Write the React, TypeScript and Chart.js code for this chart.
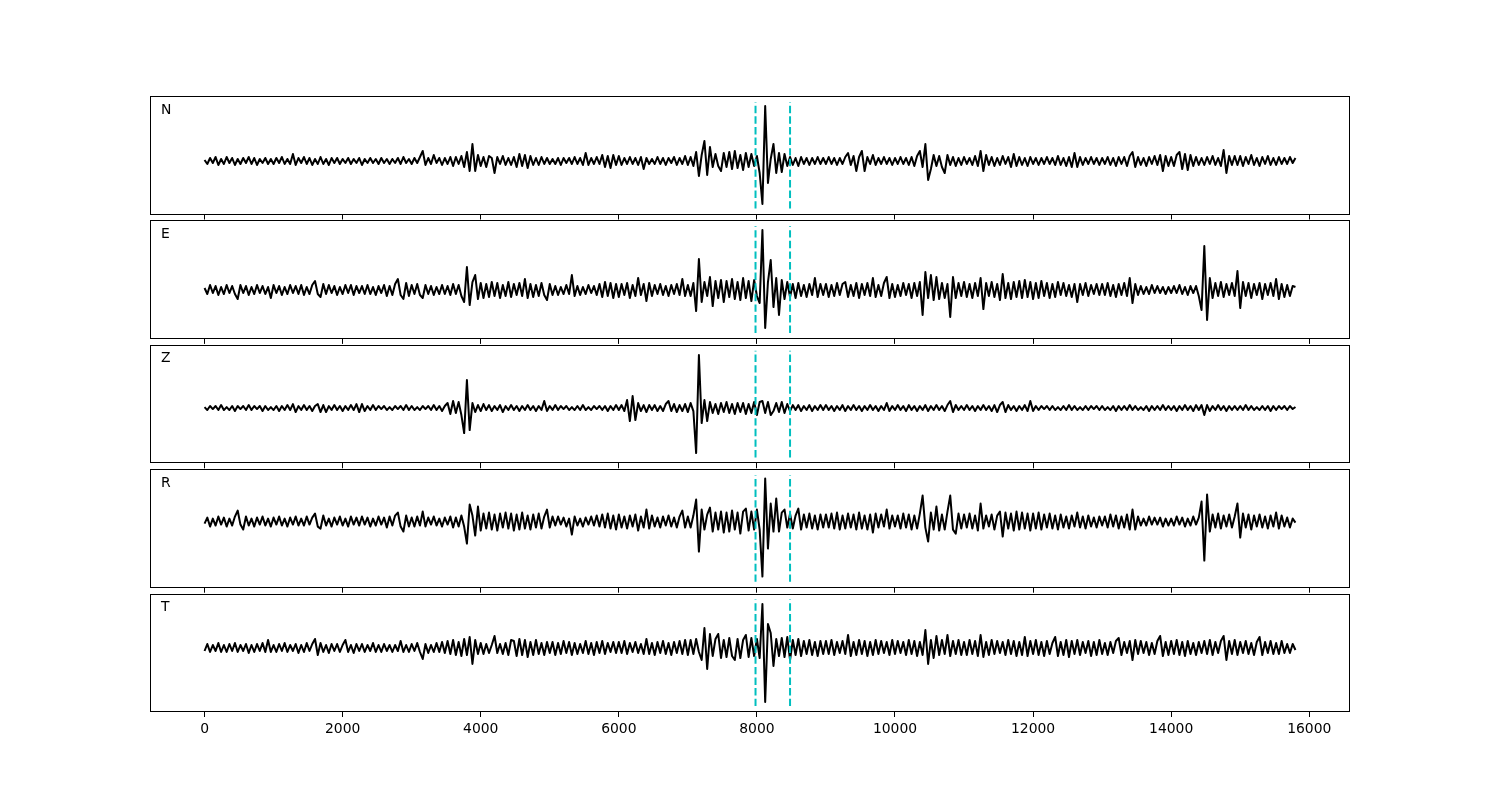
import React, { useEffect, useRef } from "react";
import { Chart, registerables } from "chart.js";

Chart.register(...registerables);

// sample interval of the traces (x units)
const SAMPLE_STEP = 40;

// Channel traces, one value every SAMPLE_STEP (rows of 1000 x units)
const N_TRACE = [
  1, -3, 3, -2, 4, -4, 2, -3, 4, -2, 3, -4, 2, -3, 3, -2, 4, -3, 3, -4, 2, -2, 3, -3, 2,
  -3, 3, -2, 4, -3, 2, -3, 7, -4, 3, -2, 4, -3, 3, -4, 2, -3, 4, -3, 2, -4, 3, -2, 3, -3,
  2, -2, 3, -3, 2, -2, 3, -4, 2, -2, 3, -2, 2, -3, 3, -2, 2, -3, 2, -2, 3, -3, 4, -2, 2,
  -3, 3, -2, 4, 10, -4, 3, -3, 6, -2, 3, -4, 3, -3, 4, -5, 4, -3, 5, -6, 9, -10, 17, -10, 6,
  -5, 4, -6, 5, 3, -12, 4, -3, 5, -4, 3, -4, 4, -6, 7, -5, 6, -7, 5, -4, 3, -4, 4, -3, 3,
  -3, 2, -3, 3, -4, 3, -2, 3, -3, 4, -3, 3, -4, 8, -4, 3, -3, 4, -3, 6, -6, 5, -7, 6, -4,
  5, -4, 3, -3, 4, -3, 3, -4, 4, -8, 3, -3, 2, -3, 4, -3, 3, -4, 3, -2, 4, -4, 3, -3, 5,
  -4, 4, -5, 9, -15, 6, 20, -14, 14, -6, 7, -5, -10, 8, -6, 9, -8, 10, -7, 6, -9, 8, -6, 7, -5,
  5, -12, -43, 55, -22, 2, 17, -12, 8, -11, 7, -5, 4, -4, 3, -5, 4, -3, 3, -4, 3, -3, 4, -3, 3,
  -3, 4, -3, 3, -4, 3, -3, 4, 8, -4, 5, -10, 4, 10, -10, 4, -3, 6, -4, 3, -3, 4, -3, 3, -4,
  3, -3, 4, -3, 3, -4, 4, -5, 5, 10, -6, 17, -19, -8, 6, -5, 5, -6, -12, 6, -4, 4, -5, 3, -4,
  4, -3, 3, -4, 5, -5, 10, -10, 6, -4, 4, -5, 3, -4, 5, -3, 4, -6, 7, -5, 4, -4, 3, -5, 4,
  -3, 3, -4, 3, -3, 4, -3, 3, -4, 5, -4, 3, -5, 4, -6, 8, -6, 4, -4, 3, -3, 4, -3, 3, -4,
  3, -3, 4, -4, 3, -5, 4, -3, 4, -5, 5, 9, -6, 4, -4, 3, -5, 4, -3, 5, -4, 6, -10, 5, -5,
  4, -5, 6, 9, -8, 7, -9, 6, -5, 4, -4, 3, -4, 4, -3, 5, -4, 3, -5, 11, -12, 5, -4, 5, -4,
  5, -5, 4, -3, 6, -4, 3, -5, 4, -3, 5, -4, 3, -4, 4, -3, 3, -3, 4, -2, 3,
];

const E_TRACE = [
  2, -4, 5, -3, 4, -5, 3, -4, 5, -3, 4, -4, -9, 5, -3, 4, -5, 3, -4, 5, -3, 4, -4, 3, -8,
  5, -3, 4, -5, 3, -4, 5, -3, 4, -4, 5, -5, 3, -4, 5, 9, -4, -7, 6, -4, 5, -3, 4, -5, 3,
  -4, 5, -3, 5, -5, 4, -3, 4, -4, 5, -4, 3, -5, 4, -3, 5, -6, 4, -5, 6, 11, -5, -9, 7, -6,
  5, -4, 6, -5, -8, 5, -4, 4, -5, 3, -4, 5, -4, 4, -5, 6, -4, 5, -6, -12, 23, -15, 8, 15, -9,
  7, -8, 6, -7, 8, -6, 7, -8, 5, -6, 8, -7, 6, -5, 7, -6, 11, -8, 6, -7, 5, -6, 7, -5, -10,
  6, -5, 4, -5, 3, -4, 5, -4, 15, -6, 4, -5, 3, -4, 5, -3, 4, -5, 6, -7, 8, -6, 7, -8, 6,
  -7, 6, -5, 7, -8, 5, -6, 12, -5, 6, -11, 7, -6, 5, -4, 6, -5, 4, -6, 5, -4, 6, -5, 11, -6,
  5, -6, 7, -21, 31, -12, 8, -6, 13, -16, 9, -8, 10, -12, 9, -7, 11, -9, 8, -10, 12, -8, 9, -11, 10,
  -6, -13, 60, -38, 8, 30, -17, 12, -25, 10, -9, 8, -7, 6, -8, 7, -6, 5, -7, 6, -5, 12, -7, 6, -5,
  6, -7, 5, -6, 7, -5, 6, 8, -7, 5, -6, 7, -8, 6, -5, 7, -6, 12, -7, 5, -6, 7, 13, -8, 6,
  -7, 5, -6, 7, -5, 6, -8, 7, -6, 8, -25, 18, -8, 15, -10, 13, -9, 7, -8, 6, -27, 13, -8, 7, -6,
  8, -7, 6, -8, 7, -6, 12, -19, 7, -6, 8, -7, 6, -10, 16, -8, 7, -9, 8, -7, 9, -8, 10, -7, 8,
  -9, 7, -8, 9, -6, 7, -8, 6, -7, 8, -5, 7, -6, 5, -7, 6, -12, 6, -5, 7, -6, 5, -4, 6, -5,
  6, -5, 7, -6, 5, -7, 6, -5, 7, -6, 12, -13, 6, -5, 4, -4, 3, -4, 5, -3, 4, -3, 3, -4, 3,
  -3, 4, -3, 5, -4, 3, -5, 4, -3, 4, -6, -20, 44, -30, 12, -8, 7, -6, 8, -7, 6, -5, 7, -6, 19,
  -18, 8, -6, 7, -8, 6, -5, 7, -9, 6, -5, 7, -6, 11, -9, 6, -7, 5, -6, 4, 3,
];

const Z_TRACE = [
  1, -2, 2, -1, 2, -2, 3, -2, 1, -2, 2, -3, 2, -1, 2, -2, 3, -2, 2, -1, 2, -3, 2, -2, 1,
  -2, 2, -3, 2, -2, 3, -2, 4, -4, 2, -2, 3, -2, 2, -3, 2, 4, -4, 3, -4, 2, -2, 3, -2, 2,
  -3, 2, -2, 3, -2, 4, -4, 4, -3, 2, -2, 3, -2, 2, -1, 2, -2, 1, -2, 2, -1, 2, -2, 3, -2,
  2, -2, 1, -2, 2, -1, 2, -2, 3, -2, 2, -3, 2, 5, -6, 7, -5, 6, -7, -25, 28, -22, 5, -4, 3,
  -3, 4, -2, 3, -3, 2, -2, 3, -4, 2, -2, 3, -2, 2, -3, 2, -2, 3, -2, 2, -3, 2, -2, 7, -3,
  2, -2, 3, -2, 2, -1, 2, -2, 1, -2, 2, -2, 3, -2, 1, -2, 2, -1, 2, -2, 2, -3, 2, -2, 3,
  -2, 3, -3, 8, -13, 12, -12, 5, -3, 3, -4, 3, -2, 3, -3, 2, -3, 4, 7, -3, 4, -4, 3, -3, 4,
  -4, 5, -3, -45, 53, -15, 8, -13, 6, -5, 4, -6, 5, -4, 6, -5, 4, -6, 5, -4, 5, -6, 4, -5, 6,
  -7, 6, 7, -5, 6, -7, -3, 5, -4, 6, -5, 4, -3, 3, -2, 3, -3, 2, -2, 3, -3, 2, -2, 3, -2,
  3, -2, 2, -3, 2, -2, 3, -3, 2, -2, 3, -2, 2, -3, 2, -2, 3, -2, 2, -3, 2, -2, 5, -3, 2,
  -2, 3, -2, 2, -3, 3, -2, 2, -3, 2, -2, 3, -3, 2, -2, 3, -2, 2, -3, 3, 7, -4, 3, -2, 2,
  -2, 3, -2, 2, -3, 2, -2, 3, -2, 2, -3, 3, -4, 3, 6, -4, 3, -2, 2, -3, 2, -2, 3, -3, 7,
  -3, 2, -2, 2, -1, 2, -2, 2, -2, 1, -2, 2, -2, 3, -2, 2, -2, 1, -2, 2, -2, 2, -1, 2, -2,
  2, -2, 1, -2, 2, -3, 2, -2, 2, -2, 3, -2, 2, -2, 1, -2, 2, -3, 2, -2, 2, -2, 3, -2, 2,
  -2, 2, -3, 2, -2, 3, -2, 2, -3, 3, -2, 3, -7, 3, -3, 2, -2, 3, -2, 2, -3, 2, -2, 2, -2,
  2, -2, 3, -2, 2, -2, 1, -2, 2, -2, 2, -3, 2, -2, 2, -1, 2, -2, 2, -1, 1,
];

const R_TRACE = [
  -2, 4, -5, 3, -4, 5, -3, 4, -5, 3, -4, 5, 11, -3, -8, 5, -4, 3, -5, 4, -3, 5, -4, 3, -5,
  4, -3, 5, -4, 3, -5, 4, -3, 5, -4, 3, -4, 5, -3, 4, 8, -5, -7, 6, -4, 3, -5, 4, -3, 5,
  -4, 3, -5, 5, -3, 4, -4, 5, -3, 4, -5, 3, -4, 5, -3, 4, -6, 5, -4, 6, 9, -5, -10, 6, -5,
  4, -5, 5, -4, 10, -5, 4, -3, 5, -4, 3, -5, 4, -3, 5, -6, 4, -5, 6, -5, -22, 17, 6, -14, 15,
  -9, 8, -7, 9, -8, 7, -9, 8, -6, 9, -7, 8, -9, 7, -8, 9, -7, 6, -8, 7, -6, 8, -7, 5, 12,
  -6, 5, -4, 5, -3, 4, -5, 3, -13, 5, -4, 3, -5, 4, -3, 5, -4, 6, -5, 7, -6, 8, -7, 6, -8,
  7, -6, 5, -7, 6, -5, 7, -9, 5, -6, 12, -7, 6, -5, 4, -6, 5, -4, 6, -5, 4, -6, 5, 11, -6,
  5, -6, 6, 22, -30, 12, -8, 7, 14, -10, 9, -8, 10, -11, 9, -10, 11, -8, 9, -12, 10, 13, -9, 10, -8,
  12, -8, -55, 43, -27, 18, -10, 23, -10, 9, 12, -6, 8, -7, 6, 13, -8, 7, -6, 8, -7, 6, -8, 7, -6,
  7, -6, 8, -7, 9, -8, 6, -7, 8, -6, 7, -8, 9, -7, 6, -8, 7, -11, 8, -6, 7, -5, 12, -7, 6,
  -5, 6, -7, 8, -6, 7, -8, 6, -7, 8, 26, -6, -20, 9, -8, 15, -9, 7, -8, 10, 26, -8, -12, 8, -7,
  7, -6, 8, -7, 6, -9, 18, -7, 6, -5, 7, -8, 6, 10, -15, 9, -7, 8, -9, 10, -8, 9, -7, 8, -9,
  8, -7, 9, -8, 7, -6, 8, -7, 6, -8, 7, -6, 5, -7, 6, -5, 9, -6, 5, -7, 6, -5, 4, -6, 5,
  -4, 5, -6, 7, -5, 6, -7, 5, -6, 7, -8, 12, -8, 5, -4, 3, -4, 5, -3, 4, -3, 4, -5, 3, -4,
  3, -4, 5, -3, 4, -5, 3, -4, 5, -3, 4, 20, -39, 27, -10, 7, -6, 8, -7, 6, -5, 7, -6, 5, 18,
  -16, 8, -6, 7, -8, 6, -5, 7, -6, 5, -7, 6, -5, 9, -7, 6, -5, 4, -6, 3, -1,
];

const T_TRACE = [
  -3, 4, -4, 3, -3, 5, -4, 3, -4, 4, -3, 5, -4, 3, -3, 4, -5, 3, -4, 4, -3, 5, -4, 8, -4,
  3, -4, 4, -3, 5, -4, 3, -3, 4, -5, 3, -4, 5, -3, 4, 9, -7, 5, -4, 3, -5, 4, -3, 4, -4,
  3, 8, -4, 3, -5, 4, -3, 4, -4, 3, -3, 5, -4, 3, -4, 4, -3, 3, -4, 3, -3, 7, -4, 3, -4,
  4, -3, 5, -4, -11, 4, -5, 3, -4, 5, -4, 6, -5, 7, -6, 8, -7, 6, -8, 9, -7, 11, -16, 8, -6,
  5, -6, 4, -5, 3, 12, -5, 4, -6, 5, -7, 8, 7, -8, 9, -7, 8, -9, 6, -7, 8, -6, 5, -7, 6,
  -5, 6, -7, 5, -6, 7, -5, 6, -7, 5, -6, 4, -5, 7, -6, 5, -7, 6, -5, 7, -6, 5, -4, 6, -5,
  6, -5, 7, -6, 5, -4, 6, -5, 4, -6, 9, -6, 5, -7, 6, -5, 7, -6, 5, -7, 6, -5, 7, -6, 8,
  -7, 8, -6, 9, -4, -12, 20, -21, 14, -8, 9, 14, -10, 8, -9, 10, -8, -12, 9, -10, 8, 13, -9, 10, -8,
  9, -10, 44, -54, 24, 15, -18, 9, -8, 10, -9, 11, -12, 8, -7, 9, -8, 7, -6, 8, -7, 6, -8, 7, -6,
  7, -6, 8, -7, 6, -5, 7, -6, 13, -8, 6, -7, 8, -6, 7, -8, 6, -7, 8, -6, 7, -5, 6, -7, 8,
  -6, 7, -5, 6, -7, 8, -6, 7, -8, 6, -7, 18, -16, 8, -10, 12, -7, 8, -6, 13, -8, 7, -6, 8, -7,
  6, -7, 8, -6, 7, -8, 13, -9, 6, -7, 8, -6, 7, -5, 6, -7, 8, -6, 7, -8, 6, -7, 11, -8, 7,
  -6, 8, -7, 6, -8, 7, -6, 5, 11, -8, 6, -7, 8, -9, 7, -6, 8, -7, 6, -5, 7, -8, 6, -7, 8,
  -6, 5, -7, 6, -5, 7, 10, -7, 6, -5, 7, -12, 8, -6, 7, -5, 6, -7, 5, -6, 7, 12, -8, 6, -7,
  7, -6, 8, -7, 6, -8, 7, -6, 5, -7, 6, -5, 7, -6, 8, -7, 6, -5, 7, 12, -12, 7, -6, 8, -7,
  6, -5, 7, -6, 5, -7, 6, 11, -7, 6, -5, 7, -6, 5, -6, 7, -5, 4, -5, 4, -2,
];

const CHANNELS = ["N", "E", "Z", "R", "T"];
const TRACES = [N_TRACE, E_TRACE, Z_TRACE, R_TRACE, T_TRACE];

// x axis
const X_TICKS = [0, 2000, 4000, 6000, 8000, 10000, 12000, 14000, 16000];
const X_MIN = -790;
const X_MAX = 16590;

// phase picks (dashed cyan lines)
const PICKS = [7980, 8480];

// per-panel y limits (layout)
const Y_LIMITS: [number, number][] = [
  [-53.5, 65],
  [-48.85, 69.6],
  [-55.2, 63.2],
  [-66.1, 52.35],
  [-64, 54.5],
];

// layout
const W = 1500;
const H = 800;
const PANEL_TOPS = [96, 220.4, 344.8, 469.2, 593.5];
const PANEL_H = 118.5;
const LEFT = 150;
const RIGHT = 150;
const TICK_LEN = 5;
const LAST_AXIS_H = 32;
const FONT = "'DejaVu Sans', 'Liberation Sans', sans-serif";

const decorPlugin = {
  id: "decor",
  afterDatasetsDraw(chart: any, _args: any, opts: any) {
    const { ctx, chartArea: a, scales } = chart;
    const h = a.bottom - a.top;
    ctx.save();
    ctx.strokeStyle = "#00bfbf";
    ctx.lineWidth = 2;
    ctx.setLineDash([7.4, 3.2]);
    ctx.lineCap = "butt";
    for (const p of opts.picks as number[]) {
      const x = scales.x.getPixelForValue(p);
      ctx.beginPath();
      ctx.moveTo(x, a.bottom - 0.05 * h);
      ctx.lineTo(x, a.top + 0.05 * h);
      ctx.stroke();
    }
    ctx.restore();
  },
  afterDraw(chart: any, _args: any, opts: any) {
    const { ctx, chartArea: a } = chart;
    ctx.save();
    ctx.strokeStyle = "#000";
    ctx.lineWidth = 1;
    ctx.setLineDash([]);
    const l = Math.round(a.left) + 0.5;
    const r = Math.round(a.right) - 0.5;
    const t = Math.round(a.top) + 0.5;
    const b = Math.round(a.bottom) - 0.5;
    ctx.strokeRect(l, t, r - l, b - t);
    ctx.fillStyle = "#000";
    ctx.font = `13.9px ${FONT}`;
    ctx.textBaseline = "alphabetic";
    ctx.textAlign = "left";
    ctx.fillText(opts.label, a.left + 11, a.top + 17.5);
    ctx.restore();
  },
};

function Panel({ idx }: { idx: number }) {
  const ref = useRef<HTMLCanvasElement | null>(null);
  useEffect(() => {
    if (!ref.current) return;
    const isLast = idx === CHANNELS.length - 1;
    const axisH = isLast ? LAST_AXIS_H : TICK_LEN;
    const top = PANEL_TOPS[idx];
    const bottomPad = H - (top + PANEL_H) - axisH;
    const trace = TRACES[idx];
    const chart = new Chart(ref.current, {
      type: "line",
      data: {
        datasets: [
          {
            data: trace.map((v, k) => ({ x: k * SAMPLE_STEP, y: v })),
            borderColor: "#000",
            borderWidth: 2,
            pointRadius: 0,
            tension: 0,
            borderJoinStyle: "round",
            fill: false,
          },
        ],
      },
      options: {
        animation: false,
        responsive: false,
        events: [],
        layout: { padding: { left: LEFT, right: RIGHT, top, bottom: bottomPad } },
        plugins: {
          legend: { display: false },
          tooltip: { enabled: false },
          decor: { label: CHANNELS[idx], picks: PICKS },
        } as any,
        scales: {
          x: {
            type: "linear",
            min: X_MIN,
            max: X_MAX,
            afterBuildTicks: (scale: any) => {
              scale.ticks = X_TICKS.map((v) => ({ value: v }));
            },
            afterFit: (scale: any) => {
              scale.height = axisH;
            },
            grid: {
              display: true,
              drawOnChartArea: false,
              drawTicks: true,
              tickLength: TICK_LEN,
              color: "#000",
              lineWidth: 1,
            },
            border: { display: false },
            ticks: {
              display: isLast,
              autoSkip: false,
              maxRotation: 0,
              padding: 4,
              color: "#000",
              font: { family: FONT, size: 13.9 },
              callback: (v: any) => String(v),
            },
          },
          y: {
            display: false,
            min: Y_LIMITS[idx][0],
            max: Y_LIMITS[idx][1],
          },
        },
      },
      plugins: [decorPlugin],
    } as any);
    return () => chart.destroy();
  }, [idx]);
  return (
    <canvas
      ref={ref}
      width={W}
      height={H}
      style={{ position: "absolute", left: 0, top: 0, width: W, height: H, pointerEvents: "none" }}
    />
  );
}

export default function App() {
  return (
    <div style={{ position: "absolute", left: 0, top: 0, width: W, height: H, background: "#fff" }}>
      {CHANNELS.map((_, i) => (
        <Panel key={i} idx={i} />
      ))}
    </div>
  );
}
